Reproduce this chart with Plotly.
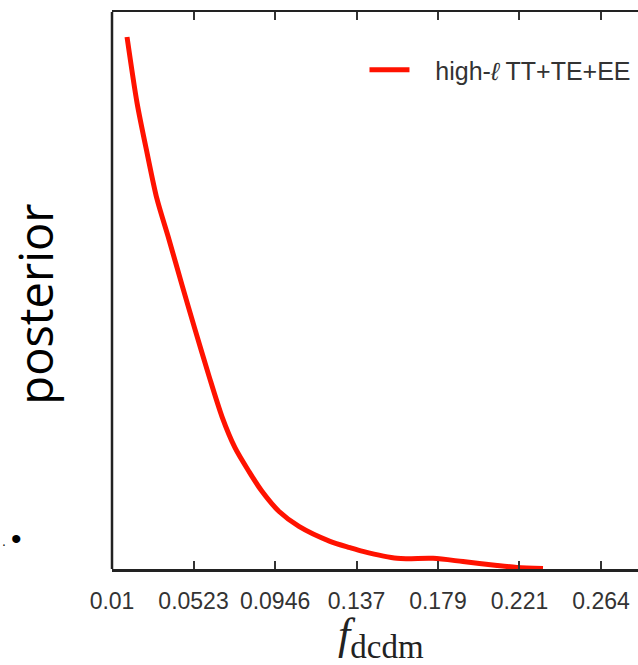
import plotly.graph_objects as go

# posterior curve (normalised)
f_dcdm = [0.0178, 0.0230, 0.0282, 0.0333, 0.0396, 0.0463, 0.0531, 0.0603,
          0.0671, 0.0738, 0.0811, 0.0878, 0.0967, 0.1070, 0.1231, 0.1335,
          0.1402, 0.1579, 0.1766, 0.1921, 0.2098, 0.2201, 0.2336]
posterior = [1.000, 0.876, 0.782, 0.696, 0.619, 0.534, 0.450, 0.363,
             0.286, 0.228, 0.183, 0.146, 0.108, 0.080, 0.052, 0.040,
             0.033, 0.020, 0.020, 0.014, 0.0066, 0.003, 0.001]

tick_vals = [0.01, 0.0523, 0.0946, 0.1369, 0.1791, 0.2214, 0.2637]
tick_text = ["0.01", "0.0523", "0.0946", "0.137", "0.179", "0.221", "0.264"]

series_name = "\u00a0\u00a0\u00a0high-<i>ℓ</i> TT+TE+EE"
x_range = [0.01, 0.2829]

fig = go.Figure()
fig.add_trace(go.Scatter(
    x=f_dcdm, y=posterior, mode="lines", name=series_name,
    line=dict(color="#ff1200", width=5, shape="spline", smoothing=0.8),
    showlegend=True,
))

fig.update_layout(
    width=638, height=665,
    margin=dict(l=112, r=0, t=12, b=96),
    paper_bgcolor="white", plot_bgcolor="white",
    showlegend=True,
    legend=dict(x=0.48, y=0.937, xanchor="left", yanchor="top",
                bgcolor="rgba(0,0,0,0)", borderwidth=0,
                font=dict(family="Liberation Sans, Arial, sans-serif", size=25, color="#333"),
                itemwidth=40),
    xaxis=dict(range=x_range, tickvals=tick_vals, ticktext=tick_text,
               showline=True, linecolor="#222", linewidth=2.5, mirror="ticks",
               ticks="inside", ticklen=8, tickwidth=2, tickcolor="#333",
               showgrid=False, zeroline=False,
               tickfont=dict(family="Liberation Sans, Arial, sans-serif", size=23, color="#333"),
               ticklabelstandoff=10),
    yaxis=dict(range=[0, 1.047], showline=False, ticks="", showticklabels=False,
               showgrid=False, zeroline=False),
    shapes=[dict(type="line", xref="paper", yref="paper", x0=0, x1=0, y0=0, y1=1,
                 line=dict(color="#222", width=2.5)),
            dict(type="rect", xref="paper", yref="paper", x0=0.994, x1=1.01,
                 y0=0.004, y1=0.996, fillcolor="white", line=dict(width=0),
                 layer="above")],
)

fig.add_annotation(xref="paper", yref="paper", x=-0.146, y=0.475,
                   xanchor="center", yanchor="middle", showarrow=False,
                   textangle=-90, text="posterior",
                   font=dict(family="Open Sans, sans-serif", size=47, color="#000"))
fig.add_annotation(xref="paper", yref="paper", x=0.512, y=-0.123,
                   xanchor="center", yanchor="middle", showarrow=False,
                   text="<i>f</i><sub><span style='font-size:33px'>dcdm</span></sub>",
                   font=dict(family="Liberation Serif, DejaVu Serif, serif", size=44, color="#222"))
fig.add_annotation(xref="paper", yref="paper", x=-0.2129, y=0.05, xanchor="left",
                   yanchor="middle", showarrow=False, text=".",
                   font=dict(family="Liberation Sans, sans-serif", size=14, color="#111"))
fig.add_annotation(xref="paper", yref="paper", x=-0.1825, y=0.054, xanchor="center",
                   yanchor="middle", showarrow=False, text="•",
                   font=dict(family="Liberation Sans, sans-serif", size=30, color="#000"))

fig.write_html("out.html", config={"staticPlot": True, "displayModeBar": False})
